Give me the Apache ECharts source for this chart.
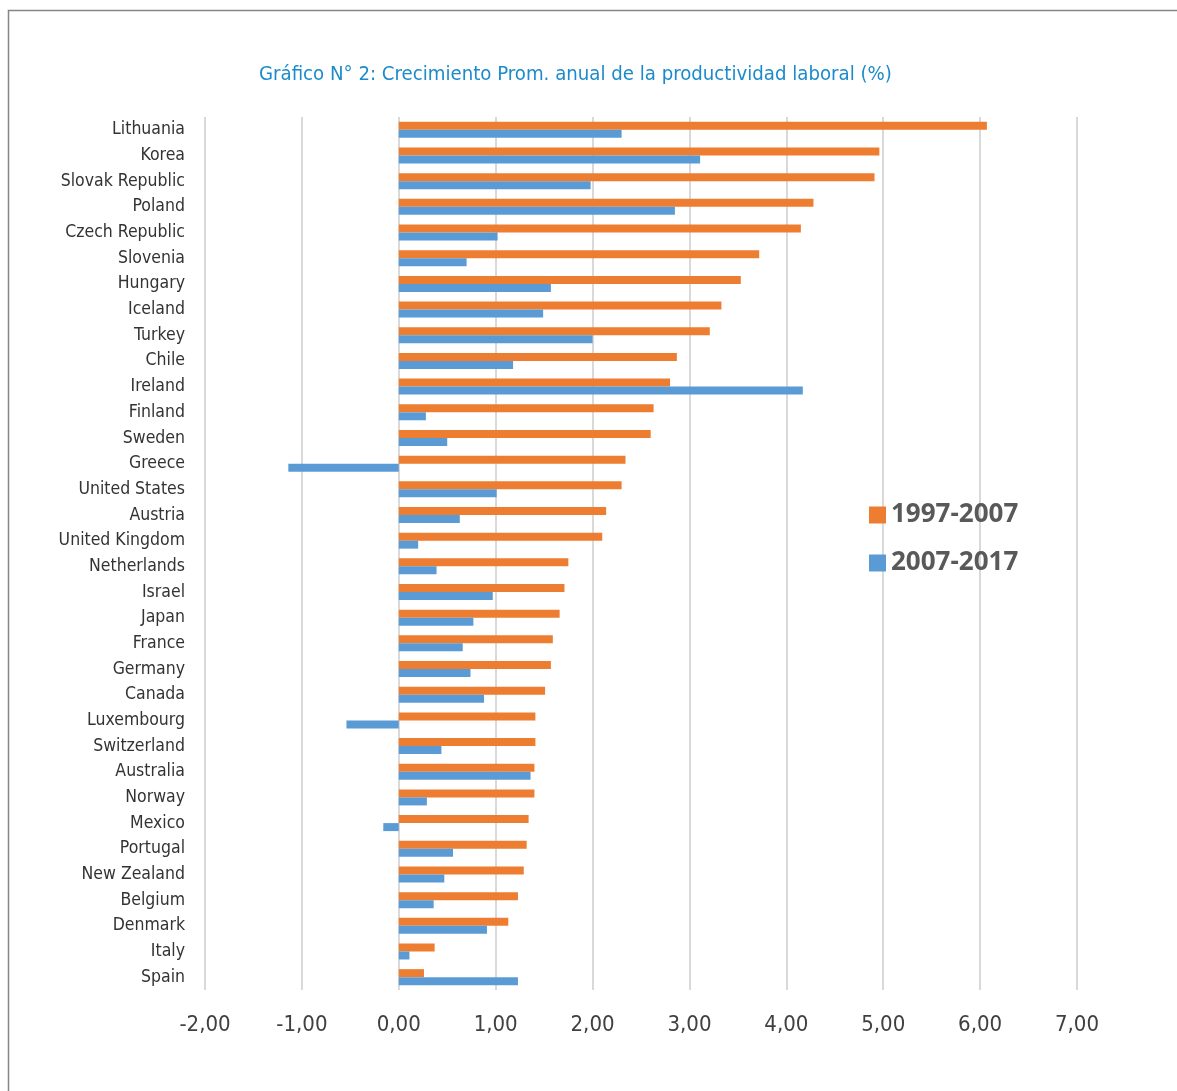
<!DOCTYPE html>
<html>
<head>
<meta charset="utf-8">
<script src="https://cdn.jsdelivr.net/npm/echarts@6/dist/echarts.min.js"></script>
<style>
html,body{margin:0;padding:0;background:#fff;}
#chart{width:1177px;height:1091px;}
</style>
</head>
<body>
<div id="chart"></div>
<script>
const countries = ["Lithuania","Korea","Slovak Republic","Poland","Czech Republic","Slovenia","Hungary","Iceland","Turkey","Chile","Ireland","Finland","Sweden","Greece","United States","Austria","United Kingdom","Netherlands","Israel","Japan","France","Germany","Canada","Luxembourg","Switzerland","Australia","Norway","Mexico","Portugal","New Zealand","Belgium","Denmark","Italy","Spain"];
const growth1997_2007 = [6.07,4.96,4.91,4.28,4.15,3.72,3.53,3.33,3.21,2.87,2.80,2.63,2.60,2.34,2.30,2.14,2.10,1.75,1.71,1.66,1.59,1.57,1.51,1.41,1.41,1.40,1.40,1.34,1.32,1.29,1.23,1.13,0.37,0.26];
const growth2007_2017 = [2.30,3.11,1.98,2.85,1.02,0.70,1.57,1.49,2.00,1.18,4.17,0.28,0.50,-1.14,1.01,0.63,0.20,0.39,0.97,0.77,0.66,0.74,0.88,-0.54,0.44,1.36,0.29,-0.16,0.56,0.47,0.36,0.91,0.11,1.23];
const seriesNames = ["1997-2007","2007-2017"];
const titleText = "Gráfico N° 2: Crecimiento Prom. anual de la productividad laboral (%)";

const narrow = "'Liberation Sans Narrow','DejaVu Sans Condensed','Roboto',sans-serif";
const chart = echarts.init(document.getElementById('chart'));
chart.setOption({
  animation:false,
  backgroundColor:'#fff',
  graphic:[{type:'rect',left:6,top:8,shape:{width:1250,height:1250},style:{fill:'none',stroke:'#858585',lineWidth:1.5},silent:true}],
  title:{text:titleText,left:254,top:60,textStyle:{color:'#1b8bcb',fontFamily:narrow,fontWeight:'normal',fontSize:20.2}},
  legend:{
    data:seriesNames,orient:'vertical',left:864,top:497,itemWidth:17,itemHeight:17,itemGap:22,
    icon:'rect',
    textStyle:{color:'#595959',fontFamily:"'Open Sans','Lato',sans-serif",fontWeight:'bold',fontSize:26}
  },
  grid:{left:205,right:100,top:117,bottom:101,containLabel:false},
  xAxis:{
    type:'value',min:-2,max:7,interval:1,
    axisLine:{show:false},axisTick:{show:false},
    splitLine:{show:true,lineStyle:{color:'#d9d9d9',width:2}},
    axisLabel:{margin:24,color:'#404040',fontFamily:narrow,fontSize:22,
      formatter:v=>v.toFixed(2).replace('.',',')}
  },
  yAxis:{
    type:'category',data:countries,inverse:true,
    axisLine:{show:false},axisTick:{show:false},
    axisLabel:{margin:20,color:'#333333',fontFamily:narrow,fontSize:17.5}
  },
  series:[
    {name:seriesNames[0],type:'bar',data:growth1997_2007,barWidth:8,barGap:'0%',itemStyle:{color:'#ed7d31'}},
    {name:seriesNames[1],type:'bar',data:growth2007_2017,barWidth:8,barGap:'0%',itemStyle:{color:'#5b9bd5'}}
  ]
});
</script>
</body>
</html>
